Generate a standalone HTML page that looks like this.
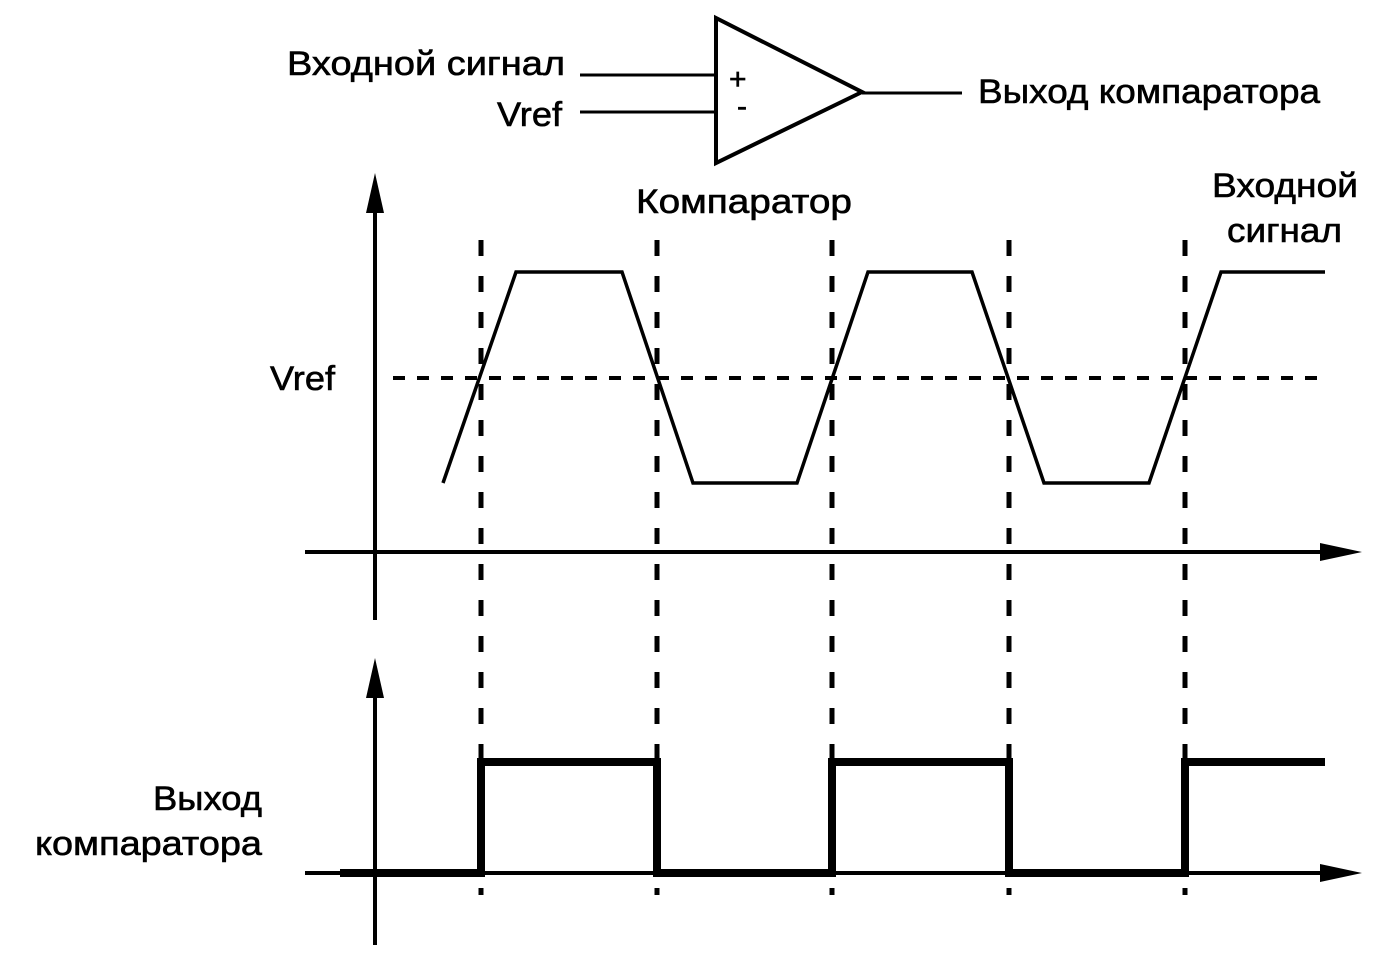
<!DOCTYPE html>
<html><head><meta charset="utf-8"><style>
html,body{margin:0;padding:0;background:#fff}
svg{display:block}
text{font-family:"Liberation Sans",sans-serif;font-size:34px;fill:#000;stroke:#000;stroke-width:0.6}
</style></head><body>
<svg width="1399" height="964" viewBox="0 0 1399 964" xmlns="http://www.w3.org/2000/svg">
<polygon points="716,18 716,163 862,92" fill="none" stroke="#000" stroke-width="4"/>
<line x1="580" y1="75" x2="716" y2="75" stroke="#000" stroke-width="3"/>
<line x1="580" y1="112" x2="716" y2="112" stroke="#000" stroke-width="3"/>
<line x1="862" y1="93" x2="962" y2="93" stroke="#000" stroke-width="3"/>
<text x="729" y="89" style="font-size:30px">+</text>
<text x="737" y="116" style="font-size:30px">-</text>
<text x="287" y="75" textLength="278" lengthAdjust="spacingAndGlyphs">Входной сигнал</text>
<text x="497" y="126" textLength="65" lengthAdjust="spacingAndGlyphs">Vref</text>
<text x="978" y="103" textLength="342" lengthAdjust="spacingAndGlyphs">Выход компаратора</text>

<line x1="375" y1="195" x2="375" y2="620" stroke="#000" stroke-width="4"/>
<polygon points="375,173 366,213 384,213" fill="#000"/>
<line x1="305" y1="552" x2="1335" y2="552" stroke="#000" stroke-width="4"/>
<polygon points="1362,552 1320,543 1320,561" fill="#000"/>
<line x1="393" y1="378" x2="1328" y2="378" stroke="#000" stroke-width="4" stroke-dasharray="12,12"/>
<text x="270" y="390" textLength="65" lengthAdjust="spacingAndGlyphs">Vref</text>

<g stroke="#000" stroke-width="5" stroke-dasharray="16,20">
<line x1="481" y1="240" x2="481" y2="895"/>
<line x1="657" y1="240" x2="657" y2="895"/>
<line x1="832" y1="240" x2="832" y2="895"/>
<line x1="1009" y1="240" x2="1009" y2="895"/>
<line x1="1185" y1="240" x2="1185" y2="895"/>
</g>

<polyline points="443,483 516,272 622,272 693,483 797,483 868,272 972,272 1044,483 1149,483 1221,272 1325,272" fill="none" stroke="#000" stroke-width="3.5"/>
<text x="636" y="213" textLength="216" lengthAdjust="spacingAndGlyphs">Компаратор</text>
<text x="1212" y="197" textLength="146" lengthAdjust="spacingAndGlyphs">Входной</text>
<text x="1227" y="242" textLength="115" lengthAdjust="spacingAndGlyphs">сигнал</text>

<line x1="375" y1="680" x2="375" y2="945" stroke="#000" stroke-width="4"/>
<polygon points="375,658 366,698 384,698" fill="#000"/>
<line x1="305" y1="873" x2="1335" y2="873" stroke="#000" stroke-width="4"/>
<polygon points="1362,873 1320,864 1320,882" fill="#000"/>
<polyline points="340,873 481,873 481,762 657,762 657,873 832,873 832,762 1009,762 1009,873 1185,873 1185,762 1325,762" fill="none" stroke="#000" stroke-width="8"/>
<text x="153" y="810" textLength="109" lengthAdjust="spacingAndGlyphs">Выход</text>
<text x="35" y="855" textLength="227" lengthAdjust="spacingAndGlyphs">компаратора</text>
</svg>
</body></html>
